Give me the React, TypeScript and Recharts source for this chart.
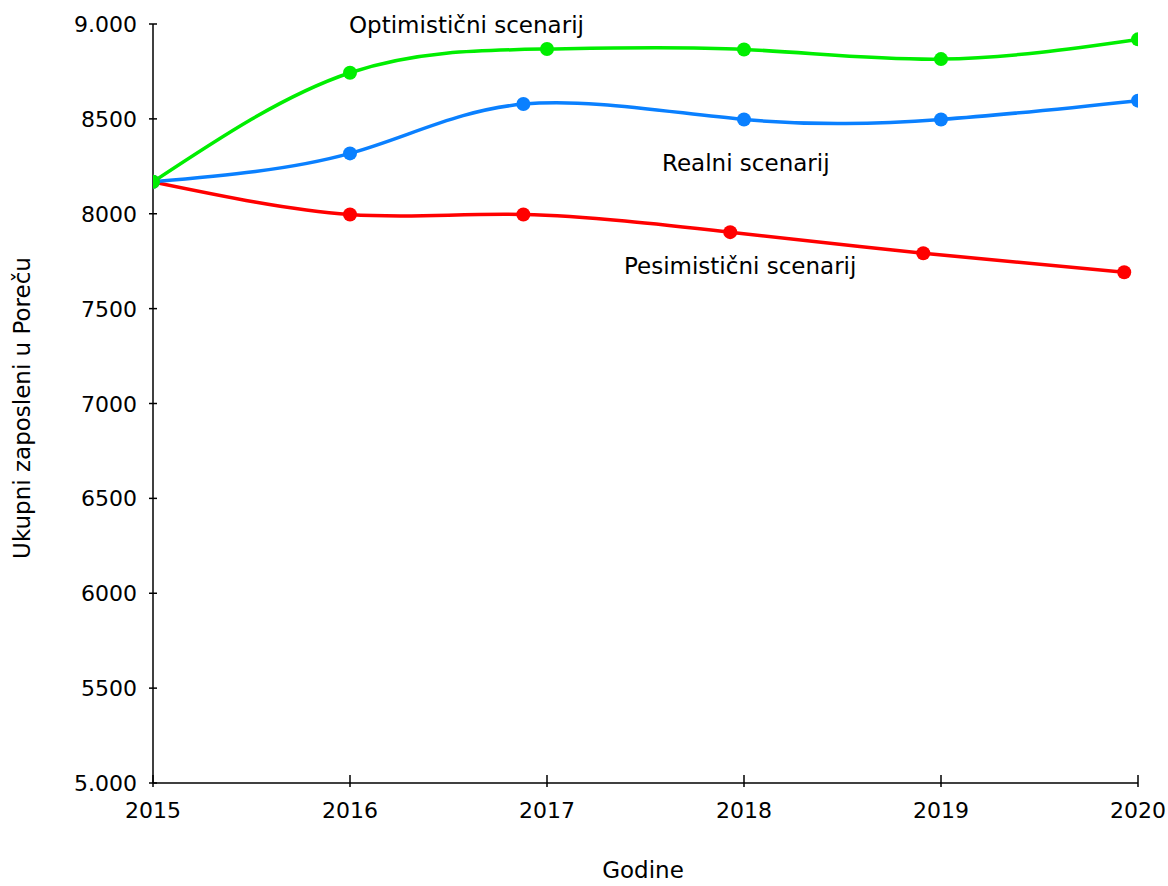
import { LineChart, Line, XAxis, YAxis } from "recharts";

// x positions of the points (years; some markers sit slightly before the year tick)
const optimisticYears = [2015, 2016, 2017, 2018, 2019, 2020];
const optimisticValues = [8168, 8743, 8868, 8866, 8815, 8919];

const realYears = [2015, 2016, 2016.88, 2018, 2019, 2020];
const realValues = [8168, 8318, 8578, 8497, 8497, 8596];

const pessimisticYears = [2015, 2016, 2016.88, 2017.93, 2018.91, 2019.93];
const pessimisticValues = [8168, 7996, 7996, 7903, 7792, 7692];

const xTicks = [2015, 2016, 2017, 2018, 2019, 2020];
const yTicks = [5000, 5500, 6000, 6500, 7000, 7500, 8000, 8500, 9000];
const yTickLabels = ["5.000", "5500", "6000", "6500", "7000", "7500", "8000", "8500", "9.000"];

const seriesNames = ["Optimistični scenarij", "Realni scenarij", "Pesimistični scenarij"];
const xTitle = "Godine";
const yTitle = "Ukupni zaposleni u Poreču";

const toRows = (xs: number[], ys: number[]) => xs.map((year, i) => ({ year, value: ys[i] }));

const optimistic = toRows(optimisticYears, optimisticValues);
const real = toRows(realYears, realValues);
const pessimistic = toRows(pessimisticYears, pessimisticValues);

const FONT = "'DejaVu Sans', Verdana, sans-serif";
const X_MARGIN = 35;
const Y_MARGIN = 16;

function XTick(props: any) {
  const { x, y, payload } = props;
  const axisY = y - X_MARGIN;
  return (
    <g>
      <line x1={x} x2={x} y1={axisY - 8} y2={axisY + 4} stroke="#000" strokeWidth={1.5} />
      <text x={x} y={y} textAnchor="middle" fontSize={22} fontFamily={FONT} fill="#000">
        {payload.value}
      </text>
    </g>
  );
}

function YTick(props: any) {
  const { x, y, payload } = props;
  const axisX = x + Y_MARGIN;
  const idx = yTicks.indexOf(payload.value);
  return (
    <g>
      <line x1={axisX - 4} x2={axisX + 4} y1={y} y2={y} stroke="#000" strokeWidth={1.5} />
      <text x={x} y={y + 8} textAnchor="end" fontSize={22} fontFamily={FONT} fill="#000">
        {idx >= 0 ? yTickLabels[idx] : payload.value}
      </text>
    </g>
  );
}

export default function App() {
  return (
    <div style={{ position: "absolute", left: 0, top: 0, background: "#fff" }}>
      <LineChart width={1168} height={886} margin={{ top: 24, right: 30, bottom: 0, left: 0 }}>
        <XAxis
          dataKey="year"
          type="number"
          domain={[2015, 2020]}
          ticks={xTicks}
          allowDataOverflow
          height={103}
          tickSize={0}
          tickMargin={X_MARGIN}
          tickLine={false}
          tick={<XTick />}
          axisLine={{ stroke: "#000", strokeWidth: 1.5 }}
          interval={0}
        />
        <YAxis
          type="number"
          domain={[5000, 9000]}
          ticks={yTicks}
          width={153}
          tickSize={0}
          tickMargin={Y_MARGIN}
          tickLine={false}
          tick={<YTick />}
          axisLine={{ stroke: "#000", strokeWidth: 1.5 }}
          interval={0}
        />
        <Line
          data={pessimistic}
          dataKey="value"
          name={seriesNames[2]}
          type="natural"
          stroke="#ff0000"
          strokeWidth={3.5}
          dot={{ r: 7, fill: "#ff0000", stroke: "none" }}
          isAnimationActive={false}
        />
        <Line
          data={real}
          dataKey="value"
          name={seriesNames[1]}
          type="natural"
          stroke="#0a80ff"
          strokeWidth={3.5}
          dot={{ r: 7, fill: "#0a80ff", stroke: "none" }}
          isAnimationActive={false}
        />
        <Line
          data={optimistic}
          dataKey="value"
          name={seriesNames[0]}
          type="natural"
          stroke="#00ee00"
          strokeWidth={3.5}
          dot={{ r: 7, fill: "#00ee00", stroke: "none" }}
          isAnimationActive={false}
        />
        <text x={349} y={33} fontSize={23} fontFamily={FONT} fill="#000">
          {seriesNames[0]}
        </text>
        <text x={662} y={171} fontSize={23} fontFamily={FONT} fill="#000">
          {seriesNames[1]}
        </text>
        <text x={624} y={274} fontSize={23} fontFamily={FONT} fill="#000">
          {seriesNames[2]}
        </text>
        <text x={643} y={878} textAnchor="middle" fontSize={23} fontFamily={FONT} fill="#000">
          {xTitle}
        </text>
        <text
          x={30}
          y={408}
          textAnchor="middle"
          fontSize={23}
          fontFamily={FONT}
          fill="#000"
          transform="rotate(-90, 30, 408)"
        >
          {yTitle}
        </text>
      </LineChart>
    </div>
  );
}
